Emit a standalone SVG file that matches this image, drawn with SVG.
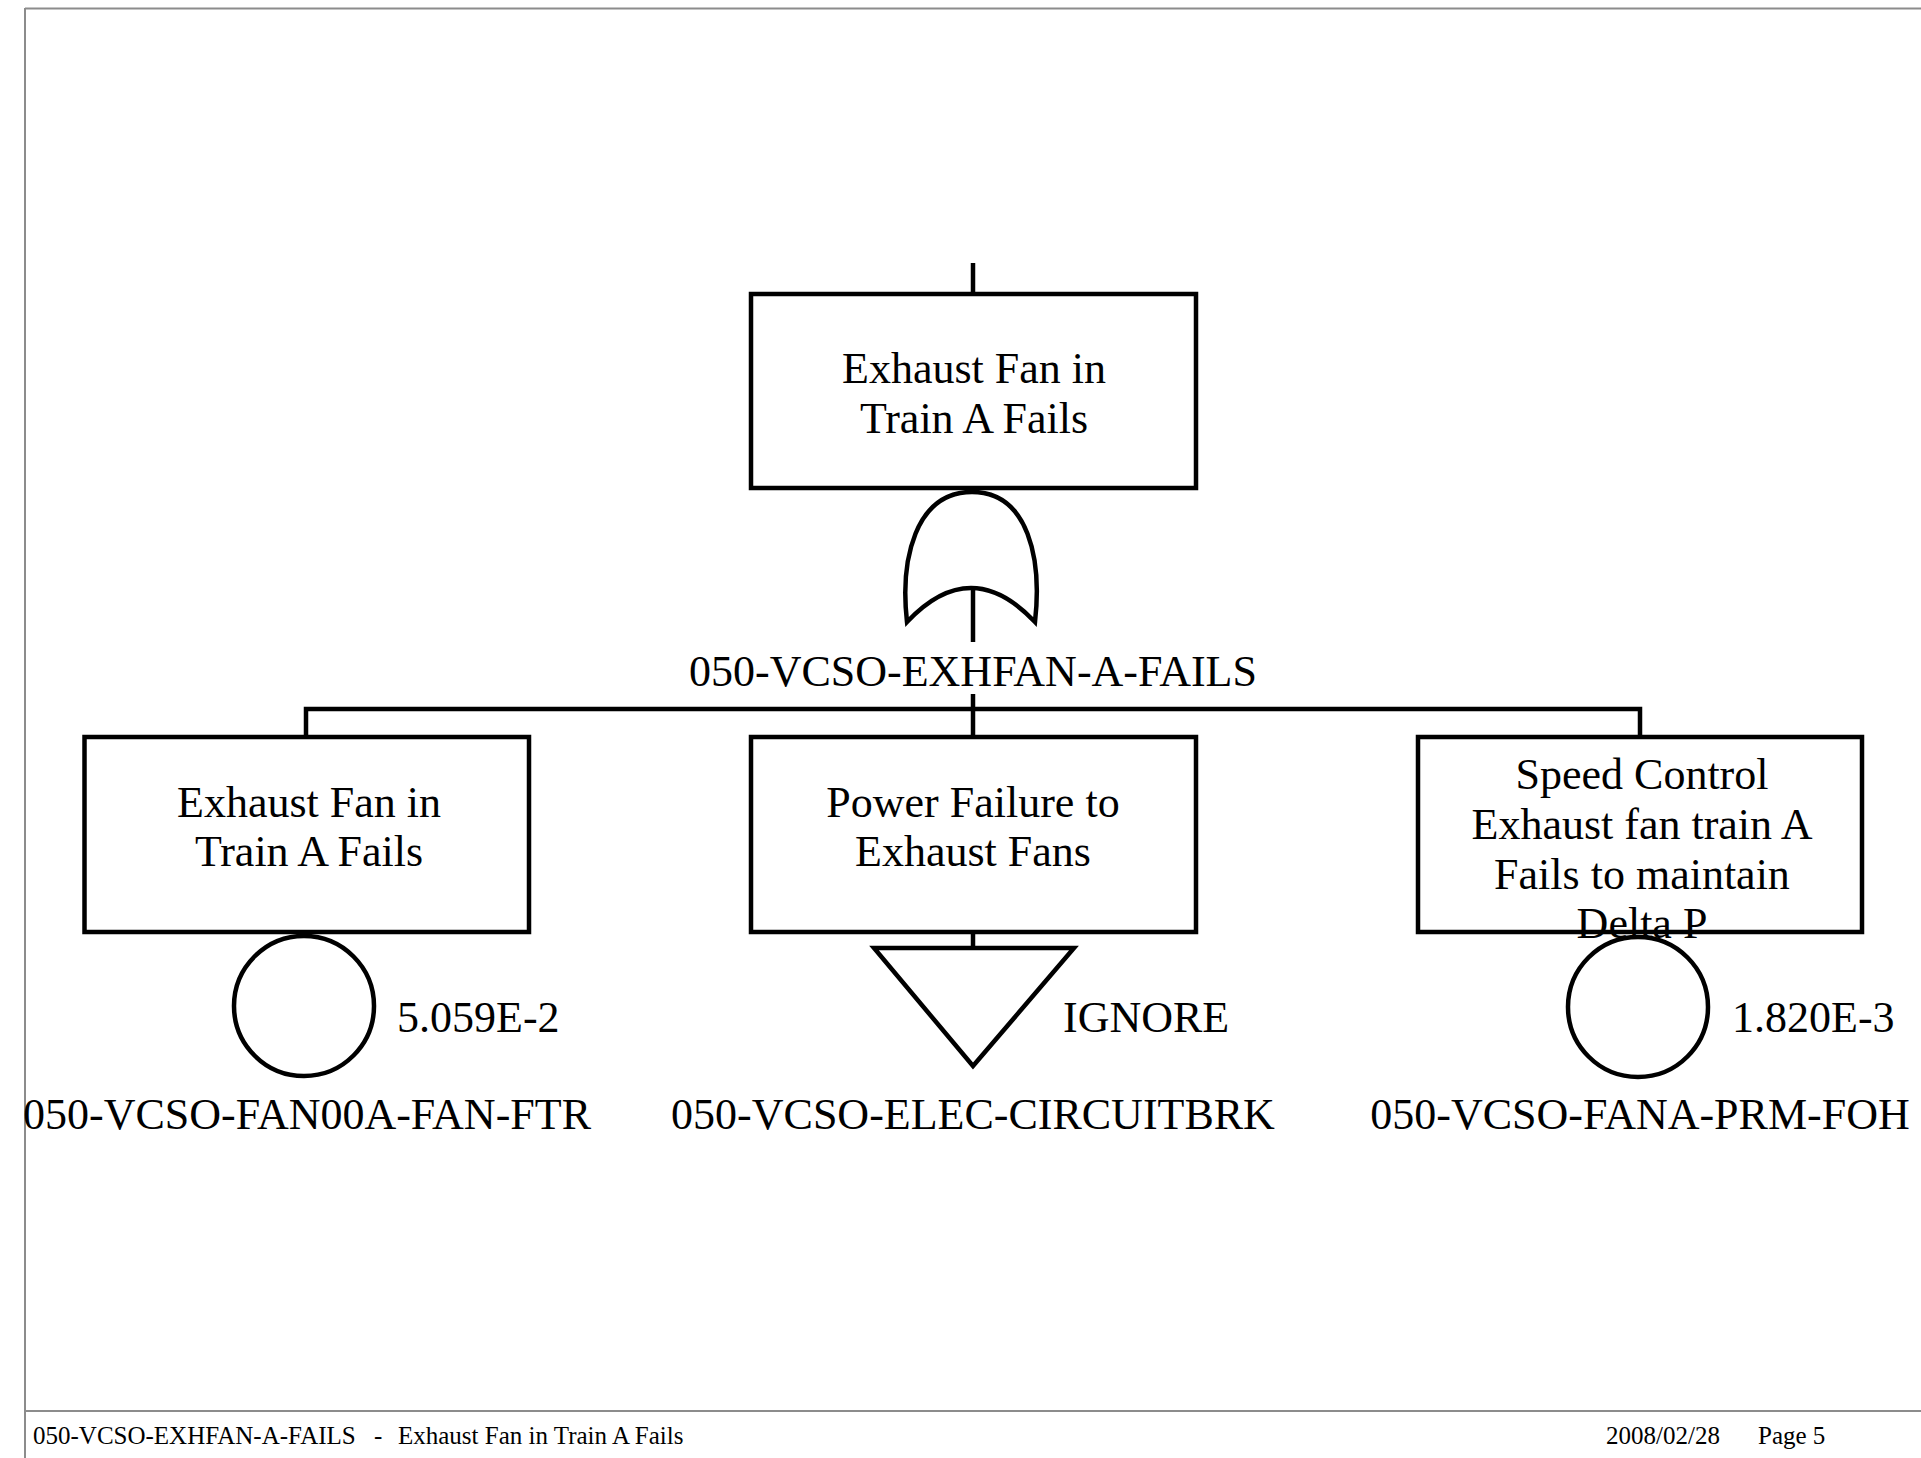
<svg xmlns="http://www.w3.org/2000/svg" width="1921" height="1458" viewBox="0 0 1921 1458">
<style>
.t{font-family:"Liberation Serif","Times New Roman",serif;font-size:44px;fill:#000;text-anchor:middle}
.v{font-family:"Liberation Serif","Times New Roman",serif;font-size:44px;fill:#000}
.f{font-family:"Liberation Serif","Times New Roman",serif;font-size:25px;fill:#000}
.s{fill:none;stroke:#000;stroke-width:4.5;stroke-linejoin:miter}
.b{fill:none;stroke:#8c8c8c;stroke-width:2}
</style>
<rect width="1921" height="1458" fill="#fff"/>
<g id="frame">
<line class="b" x1="25" y1="8.5" x2="1921" y2="8.5"/>
<line class="b" x1="25" y1="8" x2="25" y2="1458" stroke-width="1.5"/>
<line class="b" x1="25" y1="1411" x2="1921" y2="1411"/>
<text class="f" x="33" y="1444">050-VCSO-EXHFAN-A-FAILS</text>
<text class="f" x="374" y="1444">-</text>
<text class="f" x="398" y="1444">Exhaust Fan in Train A Fails</text>
<text class="f" x="1606" y="1444">2008/02/28</text>
<text class="f" x="1758" y="1444">Page 5</text>
</g>
<g id="connectors">
<line class="s" x1="973" y1="263" x2="973" y2="294"/>
<line class="s" x1="973" y1="589" x2="973" y2="642"/>
<line class="s" x1="973" y1="694" x2="973" y2="737"/>
<polyline class="s" points="306,737 306,709 1640,709 1640,737"/>
<line class="s" x1="973" y1="932" x2="973" y2="948"/>
</g>
<g id="top-event">
<rect class="s" x="751" y="294" width="445" height="194"/>
<text class="t" x="974" y="383">Exhaust Fan in</text>
<text class="t" x="974" y="433">Train A Fails</text>
</g>
<g id="or-gate">
<path class="s" d="M907 622 C900 560 915 492 972 492 C1029 492 1042 560 1035 622 Q971 554 907 622 Z"/>
<text class="t" x="973" y="686">050-VCSO-EXHFAN-A-FAILS</text>
</g>
<g id="event-fan">
<rect class="s" x="84.5" y="737" width="444.5" height="195"/>
<text class="t" x="309" y="817">Exhaust Fan in</text>
<text class="t" x="309" y="866">Train A Fails</text>
</g>
<g id="basic-fan">
<circle class="s" cx="304" cy="1006" r="70"/>
<text class="v" x="397" y="1032">5.059E-2</text>
<text class="t" x="307" y="1129">050-VCSO-FAN00A-FAN-FTR</text>
</g>
<g id="event-power">
<rect class="s" x="751" y="737" width="445" height="195"/>
<text class="t" x="973" y="817">Power Failure to</text>
<text class="t" x="973" y="866">Exhaust Fans</text>
</g>
<g id="undeveloped-power">
<path class="s" d="M874 948 L1074 948 L973 1066 Z"/>
<text class="v" x="1063" y="1032">IGNORE</text>
<text class="t" x="973" y="1129">050-VCSO-ELEC-CIRCUITBRK</text>
</g>
<g id="event-speed">
<text class="t" x="1642" y="789">Speed Control</text>
<text class="t" x="1642" y="839">Exhaust fan train A</text>
<text class="t" x="1642" y="889">Fails to maintain</text>
<text class="t" x="1642" y="938">Delta P</text>
<rect class="s" x="1418" y="737" width="444" height="195"/>
</g>
<g id="basic-speed">
<circle class="s" cx="1638" cy="1007" r="70"/>
<text class="v" x="1732" y="1032">1.820E-3</text>
<text class="t" x="1640" y="1129">050-VCSO-FANA-PRM-FOH</text>
</g>
</svg>
